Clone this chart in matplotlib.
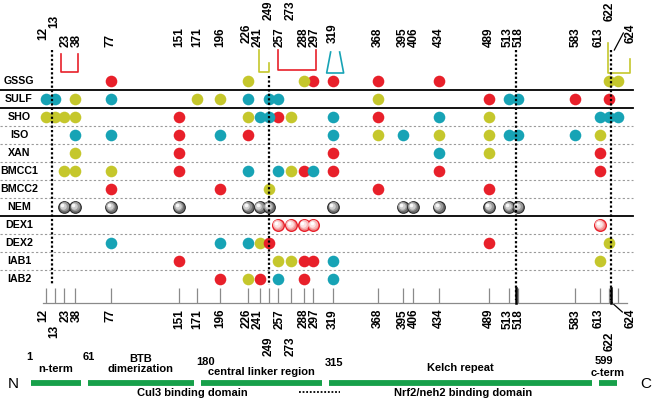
import numpy as np
import matplotlib
matplotlib.use("Agg")
import matplotlib.pyplot as plt
from matplotlib.transforms import offset_copy

plt.rcParams['font.family'] = ['Liberation Sans', 'DejaVu Sans']

# ---------------- data ----------------
residues = [12, 13, 23, 38, 77, 151, 171, 196, 226, 241, 249, 257, 273, 288,
            297, 319, 368, 395, 406, 434, 489, 513, 518, 583, 613, 622, 624]

reagents = ["GSSG", "SULF", "SHO", "ISO", "XAN", "BMCC1", "BMCC2", "NEM",
            "DEX1", "DEX2", "IAB1", "IAB2"]

GSSG = {"red": [77, 297, 319, 368, 434], "yellow": [226, 288, 622, 624]}
SULF = {"cyan": [12, 13, 77, 226, 249, 257, 513, 518],
        "yellow": [38, 171, 196, 368], "red": [489, 583, 622]}
SHO = {"yellow": [12, 13, 23, 38, 226, 273, 489], "red": [151, 257, 368],
       "cyan": [241, 249, 319, 434, 613, 622, 624]}
ISO = {"cyan": [38, 77, 196, 319, 395, 513, 518, 583], "red": [151, 226],
       "yellow": [368, 434, 489, 613]}
XAN = {"yellow": [38, 489], "red": [151, 319, 613], "cyan": [434]}
BMCC1 = {"yellow": [23, 38, 77, 273], "red": [151, 288, 319, 434, 613],
         "cyan": [226, 257, 297]}
BMCC2 = {"red": [77, 196, 368, 489], "yellow": [249]}
NEM = {"grey": [23, 38, 77, 151, 226, 241, 249, 319, 395, 406, 434, 489, 513, 518]}
DEX1 = {"pink": [257, 273, 288, 297, 613]}
DEX2 = {"cyan": [77, 196, 226], "yellow": [241, 622], "red": [249, 489]}
IAB1 = {"red": [151, 288, 297], "yellow": [257, 273, 613], "cyan": [319]}
IAB2 = {"red": [196, 241, 288], "yellow": [226], "cyan": [257, 319]}
hits = [GSSG, SULF, SHO, ISO, XAN, BMCC1, BMCC2, NEM, DEX1, DEX2, IAB1, IAB2]

dotted_residues = [13, 249, 518, 622]
brackets = [("red", 23, 38), ("yellow", 241, 249), ("red", 257, 297),
            ("cyan", 319, 319), ("yellow", 622, 624)]

domain_names = ["n-term", "BTB\ndimerization", "central linker region",
                "Kelch repeat", "c-term"]
domain_starts = [1, 61, 180, 315, 599]
domain_ends = [60, 179, 314, 598, 624]
binding_domains = ["Cul3 binding domain", "Nrf2/neh2 binding domain"]

# ---------------- style ----------------
COL = {"red": "#e8202a", "cyan": "#17a3b5", "yellow": "#c5c72c"}
GREEN = "#17a04a"
X0, XS = 40.3, 0.918          # residue -> pixel map of the main panel
PXR = 1.0 / XS                # residues per pixel
D0, DS = 27.0, 0.95           # residue -> pixel map of the domain schematic
ROW_Y0, ROW_H = 81, 18
GAP = 10                      # min spacing between dot columns (residues)
LGAP = 12                     # min spacing between number labels (residues)
NUM_FS = 8.5
TXT_FS = 8


def layout_columns(res, gap):
    res = sorted(set(res))
    clusters = [[r] for r in res]

    def pos(cl):
        c = np.mean(cl)
        n = len(cl)
        return [c + (k - (n - 1) / 2) * gap for k in range(n)]

    changed = True
    while changed:
        changed = False
        new = [clusters[0]]
        for cl in clusters[1:]:
            if pos(cl)[0] - pos(new[-1])[-1] < gap:
                new[-1] = new[-1] + cl
                changed = True
            else:
                new.append(cl)
        clusters = new
    out = {}
    for cl in clusters:
        for r, p in zip(cl, pos(cl)):
            out[r] = p
    return out


col = layout_columns(residues, GAP)
lab = layout_columns(residues, LGAP)

fig = plt.figure(figsize=(6.53, 4.0), dpi=100)
lay = fig.add_axes([0, 0, 1, 1])
lay.set_xlim(0, 653); lay.set_ylim(400, 0); lay.axis("off")
ax = fig.add_axes([0, 0, 1, 1])
ax.set_xlim(-X0 / XS, (653 - X0) / XS); ax.set_ylim(400, 0); ax.axis("off")
dom = fig.add_axes([0, 0, 1, 1])
dom.set_xlim(-D0 / DS, (653 - D0) / DS); dom.set_ylim(400, 0); dom.axis("off")

# ---- row separators and labels
for i, name in enumerate(reagents):
    y = ROW_Y0 + i * ROW_H
    lay.text(19, y + 0.5, name, ha="center", va="center", fontsize=7.7,
             fontweight="bold")
    if i < len(reagents) - 1:
        yb = y + ROW_H / 2
        if name in ("GSSG", "SULF", "NEM"):
            lay.plot([0, 633], [yb, yb], color="black", lw=1.3, zorder=1)
        else:
            lay.plot([0, 633], [yb, yb], color="#9a9a9a", lw=0.8,
                     ls=(0, (2, 2)), zorder=1)

# ---- dots
DOT = 70


def sphere(xs, y, shades, edge, ew):
    ax.scatter(xs, [y] * len(xs), s=DOT, color=shades[0], edgecolors=edge,
               linewidths=ew, zorder=3)
    sizes = [DOT * 0.62, DOT * 0.32, DOT * 0.1]
    offs = [0.6, 1.3, 1.9]
    for sh, sz, o in zip(shades[1:], sizes, offs):
        tr = offset_copy(ax.transData, fig=fig, x=-o, y=o, units="dots")
        ax.scatter(xs, [y] * len(xs), s=sz, color=sh, linewidths=0,
                   zorder=4, transform=tr)


for i, h in enumerate(hits):
    y = ROW_Y0 + i * ROW_H
    for cls, rs in h.items():
        xs = [col[r] for r in rs]
        if cls == "grey":
            sphere(xs, y, ["#6e6e6e", "#9b9b9b", "#cfcfcf", "#f7f7f7"], "#2a2a2a", 0.8)
        elif cls == "pink":
            sphere(xs, y, ["#f18d8d", "#f7b9b9", "#fde3e3", "#ffffff"], COL["red"], 1.0)
        else:
            ax.scatter(xs, [y] * len(xs), s=DOT, color=COL[cls], linewidths=0,
                       zorder=3)

# ---- top & bottom residue labels
top_y = {12: 40, 13: 28, 249: 20, 273: 20, 622: 21, 226: 43, 319: 43}
bot_y = {13: 325, 249: 336, 273: 336, 622: 332}
for r in residues:
    if r == 624:
        xl = col[r] + 12 * PXR
        ax.text(xl, 43, str(r), rotation=90, ha="center", va="bottom",
                fontsize=NUM_FS, fontweight="bold")
        ax.plot([col[r] - 4 * PXR, col[r] + 5 * PXR], [50, 33], color="black", lw=0.9)
        ax.text(xl, 309, str(r), rotation=90, ha="center", va="top",
                fontsize=NUM_FS, fontweight="bold")
        ax.plot([r - 2 * PXR, col[r] + 4 * PXR], [302, 312], color="black", lw=0.9)
        continue
    ax.text(lab[r], top_y.get(r, 47), str(r), rotation=90, ha="center",
            va="bottom", fontsize=NUM_FS, fontweight="bold")
    ax.text(lab[r], bot_y.get(r, 309), str(r), rotation=90, ha="center",
            va="top", fontsize=NUM_FS, fontweight="bold")

# ---- bottom tick ruler
ax.vlines([col[r] for r in residues], 288, 303, color="#8a8a8a", lw=0.9)
ax.plot([col[12] - 3 * PXR, col[624] + 9 * PXR], [303, 303], color="#8a8a8a", lw=0.9)

# ---- dotted guide lines
for r in dotted_residues:
    y0 = 76 if r == 249 else 50
    y1 = 300 if r in (518, 622) else 285
    ax.plot([r, r], [y0, y1], color="black", lw=1.6, ls=(0, (1, 1)), zorder=6)
    if r in (518, 622):
        ax.plot([r, r], [288, 303], color="black", lw=1.8, zorder=6)

# ---- brackets above the columns
bspec = {23: (3, 3, 54, 54, 72), 241: (1, 0, 50, 63, 72),
         257: (0, 3, 50, 50, 70), 622: (1, 12, 43, 59, 73)}
for c, a, b in brackets:
    if a == b:
        xc = col[a] + 2 * PXR
        ax.plot([xc - 4.5 * PXR, xc - 8.5 * PXR, xc + 8.5 * PXR, xc + 4.5 * PXR],
                [52, 73, 73, 52], color=COL[c], lw=1.2, zorder=5)
        continue
    pl, pr, ytl, ytr, yb = bspec[a]
    xl, xr = col[a] - pl * PXR, col[b] + pr * PXR
    ax.plot([xl, xl, xr, xr], [ytl, yb, yb, ytr], color=COL[c], lw=1.2, zorder=5)

# ---- domain schematic
name_y = [369, 363.5, 372, 368, 373]
num_y = [357, 357, 362, 363, 361]
for nm, s, e, ny, sy in zip(domain_names, domain_starts, domain_ends, name_y, num_y):
    dom.plot([s + 3, e - 3], [383, 383], color=GREEN, lw=4.2,
             solid_capstyle="butt")
    dom.text(s - 2, sy, str(s), ha="left", va="center", fontsize=TXT_FS,
             fontweight="bold")
    dom.text((s + e) / 2, ny, nm, ha="center", va="center", fontsize=TXT_FS,
             fontweight="bold", linespacing=1.0)

lay.text(13, 384, "N", ha="center", va="center", fontsize=11)
lay.text(646, 384, "C", ha="center", va="center", fontsize=11)
lay.text(192, 393, binding_domains[0], ha="center", va="center", fontsize=TXT_FS,
         fontweight="bold")
lay.text(463, 393, binding_domains[1], ha="center", va="center", fontsize=TXT_FS,
         fontweight="bold")
lay.plot([299, 340], [392, 392], color="black", lw=1.3, ls=(0, (1, 1)))

fig.savefig("out.png", dpi=100)
